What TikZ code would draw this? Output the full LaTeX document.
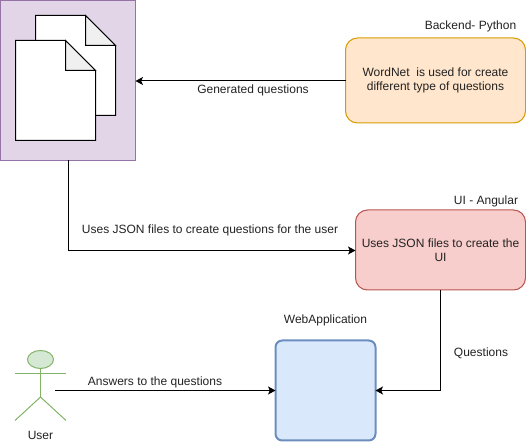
\documentclass[tikz,border=0pt]{standalone}
\usepackage{fontspec}
\setmainfont{Liberation Sans}
\usetikzlibrary{arrows.meta,shapes.geometric}
\definecolor{purpF}{HTML}{E1D5E7}\definecolor{purpD}{HTML}{9673A6}
\definecolor{orF}{HTML}{FFE6CC}\definecolor{orD}{HTML}{D79B00}
\definecolor{redF}{HTML}{F8CECC}\definecolor{redD}{HTML}{B85450}
\definecolor{bluF}{HTML}{DAE8FC}\definecolor{bluD}{HTML}{6C8EBF}
\definecolor{grnF}{HTML}{D5E8D4}\definecolor{grnD}{HTML}{82B366}
\definecolor{txt}{HTML}{222222}
\tikzset{
  x=0.75pt,y=-0.75pt,
  every node/.style={font=\fontsize{9}{10.5}\selectfont,text=txt,inner sep=0pt,outer sep=0pt},
  rbox/.style={draw,line width=0.75pt,rounded corners=9pt,align=center,anchor=north west},
  conn/.style={draw=black,line width=0.75pt,-{Stealth[length=5.6pt,width=6pt,inset=1.3pt]}},
  pagebody/.style={draw=black,line width=0.75pt,fill=white,line join=miter},
  pagefold/.style={draw=black,line width=0.75pt,fill=black!6},
  actorline/.style={draw=grnD,line width=0.75pt}
}
\begin{document}
\begin{tikzpicture}
\useasboundingbox (0,0) rectangle (526,442);
% boxes
\node[draw=purpD,fill=purpF,line width=0.75pt,minimum width=101.25pt,minimum height=120pt,anchor=north west] (docs) at (0.5,0.5) {};
\node[rbox,draw=orD,fill=orF,minimum width=135pt,minimum height=63.75pt] (back) at (345.5,38) {WordNet\ \ is used for create\\different type of questions};
\node[rbox,draw=redD,fill=redF,minimum width=127.5pt,minimum height=60pt] (ui) at (355.5,210) {Uses JSON files to create the\\UI};
\node[draw=bluD,fill=bluF,line width=1.5pt,minimum width=75pt,minimum height=75pt,rounded corners=5pt,anchor=north west] (web) at (275.5,340.5) {};
% pages
\draw[pagebody] (35.5,115.5) -- (35.5,15.5) -- (85.5,15.5) -- (115.5,45.5) -- (115.5,115.5) -- cycle;
\draw[pagefold] (85.5,15.5) -- (115.5,45.5) -- (85.5,45.5) -- cycle;
\draw[pagebody] (15.5,140.5) -- (15.5,40.5) -- (65.5,40.5) -- (95.5,70.5) -- (95.5,140.5) -- cycle;
\draw[pagefold] (65.5,40.5) -- (95.5,70.5) -- (65.5,70.5) -- cycle;
% actor
\node[draw=grnD,fill=grnF,line width=0.75pt,ellipse,minimum width=19.5pt,minimum height=13.5pt] (head) at (40.5,359.5) {};
\coordinate (hip) at (40.5,397);
\coordinate (armL) at (15,373.5);
\coordinate (armR) at (66,373.5);
\coordinate (legL) at (15,420.5);
\coordinate (legR) at (66,420.5);
\coordinate (actorOut) at (55,390.5);
\draw[actorline] (head.south) -- (hip);
\draw[actorline] (armL) -- (armR);
\draw[actorline] (legL) -- (hip) -- (legR);
\node (userT) at (40.5,435) {User};
% titles
\node (t1) at (470.5,26) {Backend- Python};
\node (t2) at (486,201) {UI - Angular};
\node (t3) at (325.5,320.5) {WebApplication};
% connectors
\draw[conn] (back.west |- 0,81) -- (docs.east |- 0,81);
\draw[conn] (docs.south -| 68.5,0) -- (68.5,250.5) -- (ui.west |- 0,250.5);
\draw[conn] (ui.south -| 440.5,0) -- (440.5,390.5) -- (web.east |- 0,390.5);
\draw[conn] (actorOut) -- (web.west |- actorOut);
% labels
\node (l1) at (253,90) {Generated questions};
\node (l2) at (210,230) {Uses JSON files to create questions for the user};
\node (l3) at (481,353) {Questions};
\node (l4) at (155,382) {Answers to the questions};
\end{tikzpicture}
\end{document}
